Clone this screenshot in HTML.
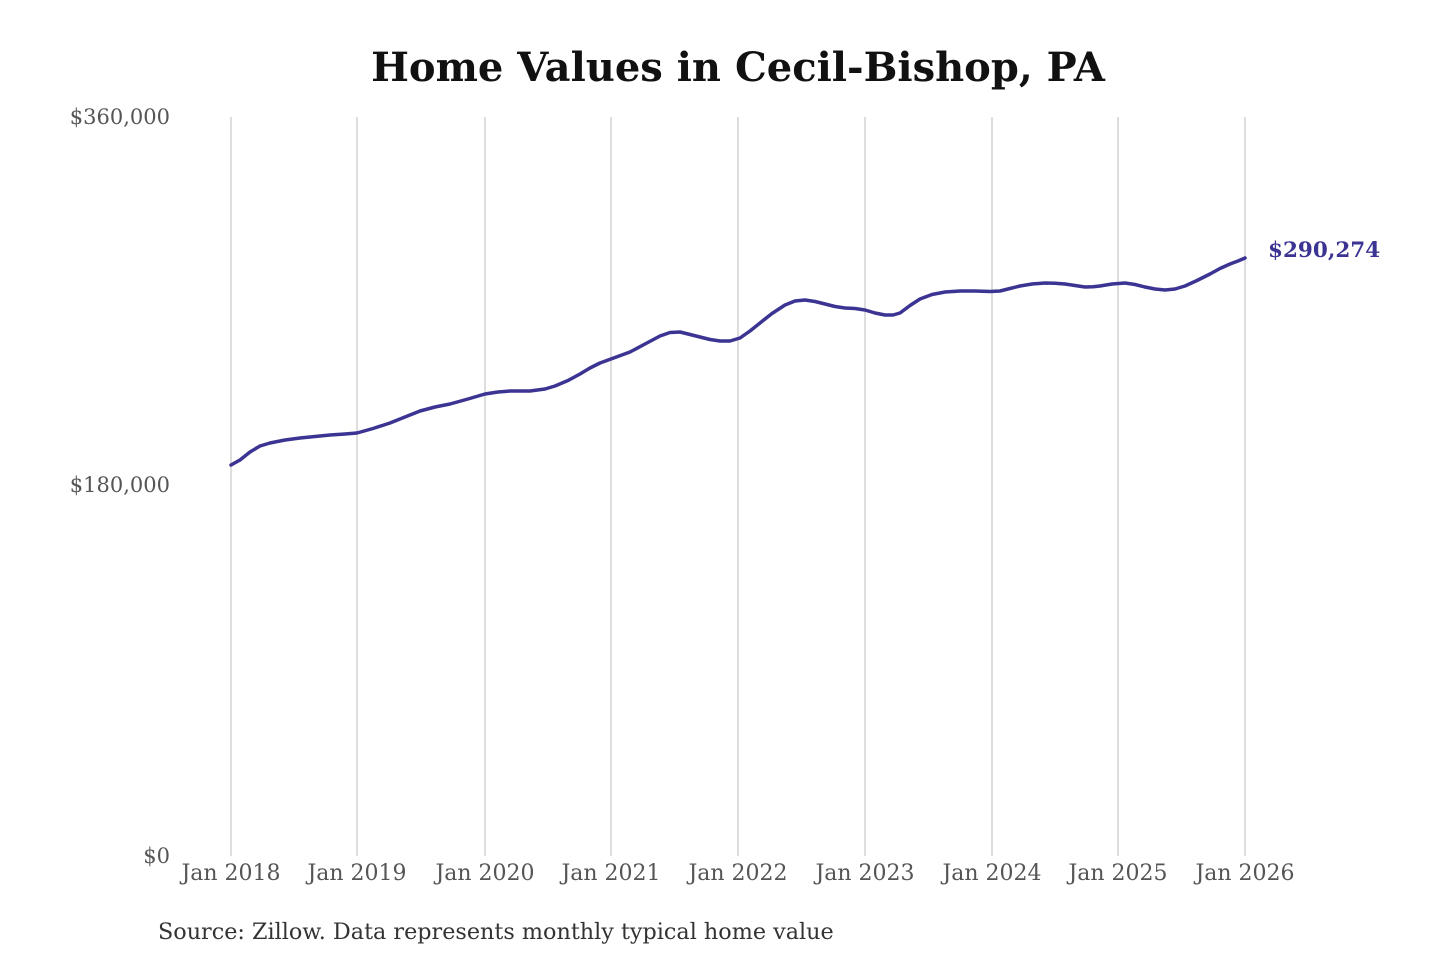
<!DOCTYPE html>
<html><head><meta charset="utf-8"><style>
html,body{margin:0;padding:0;background:#fff;width:1440px;height:960px;overflow:hidden}
text{font-family:"DejaVu Serif","Liberation Serif",serif}
</style></head><body>
<svg width="1440" height="960" viewBox="0 0 1440 960" xmlns="http://www.w3.org/2000/svg">
<rect width="1440" height="960" fill="#fff"/>
<text x="738" y="81" text-anchor="middle" font-size="40" font-weight="bold" fill="#111">Home Values in Cecil-Bishop, PA</text>
<g stroke="#c8c8c8" stroke-width="1.2">
<line x1="231" y1="117" x2="231" y2="856"/><line x1="357" y1="117" x2="357" y2="856"/>
<line x1="485" y1="117" x2="485" y2="856"/><line x1="611" y1="117" x2="611" y2="856"/>
<line x1="738" y1="117" x2="738" y2="856"/><line x1="865" y1="117" x2="865" y2="856"/>
<line x1="992" y1="117" x2="992" y2="856"/><line x1="1118" y1="117" x2="1118" y2="856"/>
<line x1="1245" y1="117" x2="1245" y2="856"/>
</g>
<g font-size="21" fill="#555" text-anchor="end">
<text x="170" y="124">$360,000</text>
<text x="170" y="492">$180,000</text>
<text x="170" y="863">$0</text>
</g>
<g font-size="22" fill="#555" text-anchor="middle">
<text x="231" y="880">Jan 2018</text><text x="357" y="880">Jan 2019</text>
<text x="485" y="880">Jan 2020</text><text x="611" y="880">Jan 2021</text>
<text x="738" y="880">Jan 2022</text><text x="865" y="880">Jan 2023</text>
<text x="992" y="880">Jan 2024</text><text x="1118" y="880">Jan 2025</text>
<text x="1245" y="880">Jan 2026</text>
</g>
<polyline fill="none" stroke="#3b3493" stroke-width="3.5" stroke-linejoin="round" stroke-linecap="round"
points="231,465 240,460 250,452 260,446 270,443 285,440 300,438 315,436.5 330,435 345,434 357,433 373,428.5 390,423 405,417 420,411 435,407 450,404 468,399 485,394 498,392 510,391 530,391 545,389 555,386 568,380.5 580,374 590,368 600,363 615,357.5 630,352 645,344 660,336 670,332.5 680,332 690,334.5 700,337 710,339.5 720,341 730,341 740,338 750,331 760,323 772,313.5 785,305 795,301 805,300 815,301.5 825,304 835,306.5 845,308 855,308.5 865,310 875,313 885,315 893,315 900,313 910,305.5 920,299 932,294.5 945,292 960,291 975,291 990,291.5 1000,291 1010,288.5 1020,286 1032,284 1045,283 1055,283.2 1065,284 1075,285.5 1085,287 1093,286.8 1100,286 1112,284 1125,283 1135,284.5 1145,287 1155,289 1165,290 1175,289 1185,286 1197,280.5 1210,274 1220,268.5 1230,264 1238,261 1245,258"/>
<text x="1268" y="257" font-size="21.5" font-weight="bold" fill="#3b3493">$290,274</text>
<text x="158" y="939" font-size="22.3" fill="#333">Source: Zillow. Data represents monthly typical home value</text>
</svg>
</body></html>
